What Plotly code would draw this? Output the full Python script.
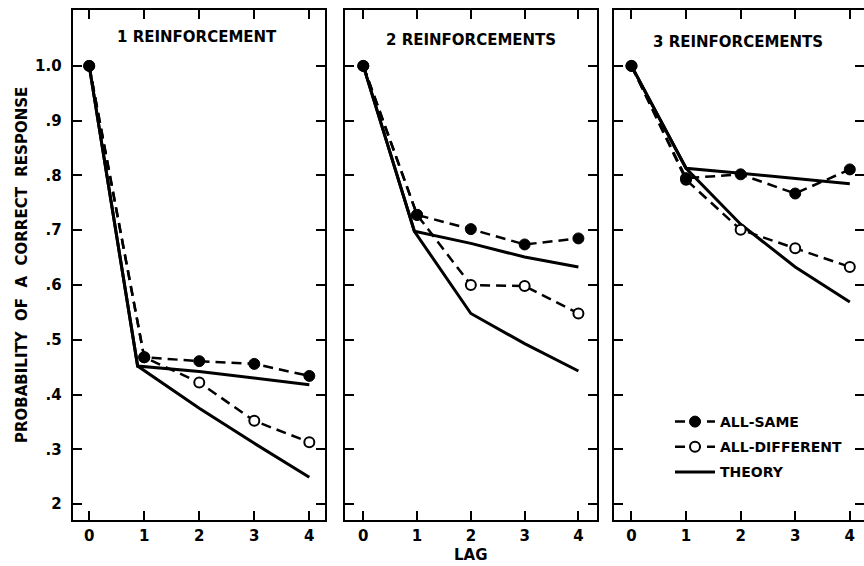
import plotly.graph_objects as go

# ---- data ----
lags = [0, 1, 2, 3, 4]
panel_titles = ["1 REINFORCEMENT", "2 REINFORCEMENTS", "3 REINFORCEMENTS"]

same_1 = [1.0, 0.468, 0.461, 0.456, 0.434]
diff_1 = [1.0, 0.468, 0.422, 0.352, 0.313]
same_2 = [1.0, 0.728, 0.702, 0.674, 0.685]
diff_2 = [1.0, 0.728, 0.600, 0.598, 0.548]
same_3 = [1.0, 0.795, 0.802, 0.767, 0.811]
diff_3 = [1.0, 0.792, 0.701, 0.667, 0.633]

theory_lags_1 = [0, 0.88, 2, 3, 4]
theory_lags_2 = [0, 0.95, 2, 3, 4]
theory_lags_3 = [0, 1, 2, 3, 4]
theory_same_1 = [1.0, 0.452, 0.442, 0.430, 0.418]
theory_diff_1 = [1.0, 0.452, 0.375, 0.311, 0.249]
theory_same_2 = [1.0, 0.698, 0.676, 0.651, 0.633]
theory_diff_2 = [1.0, 0.698, 0.548, 0.493, 0.443]
theory_same_3 = [1.0, 0.813, 0.804, 0.795, 0.785]
theory_diff_3 = [1.0, 0.813, 0.711, 0.633, 0.569]

y_tickvals = [0.2, 0.3, 0.4, 0.5, 0.6, 0.7, 0.8, 0.9, 1.0]
y_ticktext = ["2", ".3", ".4", ".5", ".6", ".7", ".8", ".9", "1.0"]
x_ticktext = ["0", "1", "2", "3", "4"]

panels = [
    (same_1, diff_1, theory_lags_1, theory_same_1, theory_diff_1),
    (same_2, diff_2, theory_lags_2, theory_same_2, theory_diff_2),
    (same_3, diff_3, theory_lags_3, theory_same_3, theory_diff_3),
]

W, H = 864, 566
MT, MB = 10, 46
plot_h = H - MT - MB
FONT = "DejaVu Sans"

x_domains_px = [(72.7, 325.0), (345.0, 596.7), (614.0, 864.0)]
x_ranges = [[-0.30, 4.285], [-0.34, 4.34], [-0.32, 4.26]]
y_range = [0.171, 1.102]

fig = go.Figure()

for i, (same, diff, tl, ts, td) in enumerate(panels):
    n = "" if i == 0 else str(i + 1)
    xa, ya = "x" + n, "y" + n
    last = (i == 2)
    # theory (two branches)
    fig.add_trace(go.Scatter(x=tl, y=ts, xaxis=xa, yaxis=ya, mode="lines",
                             line=dict(color="black", width=3),
                             name="THEORY", legendgroup="theory", showlegend=False,
                             legendrank=3))
    fig.add_trace(go.Scatter(x=tl, y=td, xaxis=xa, yaxis=ya, mode="lines",
                             line=dict(color="black", width=3),
                             name="THEORY", legendgroup="theory", showlegend=last,
                             legendrank=3))
    # all-different
    fig.add_trace(go.Scatter(x=lags, y=diff, xaxis=xa, yaxis=ya, mode="lines+markers",
                             line=dict(color="black", width=2.5, dash="10px,6px"),
                             marker=dict(symbol="circle", size=10, color="white",
                                         line=dict(color="black", width=2)),
                             name="ALL-DIFFERENT", legendgroup="diff", showlegend=last,
                             legendrank=2))
    # all-same
    fig.add_trace(go.Scatter(x=lags, y=same, xaxis=xa, yaxis=ya, mode="lines+markers",
                             line=dict(color="black", width=2.5, dash="10px,6px"),
                             marker=dict(symbol="circle", size=11, color="black",
                                         line=dict(color="black", width=1)),
                             name="ALL-SAME", legendgroup="same", showlegend=last,
                             legendrank=1))

axis_common = dict(showline=True, linecolor="black", linewidth=2.2, mirror="allticks",
                   ticks="inside", ticklen=9, tickwidth=2, tickcolor="black",
                   showgrid=False, zeroline=False,
                   tickfont=dict(family=FONT, size=15, color="black", weight="bold"))

layout = dict(
    width=W, height=H,
    margin=dict(l=0, r=0, t=MT, b=MB, autoexpand=False),
    paper_bgcolor="white", plot_bgcolor="white",
    showlegend=True,
    legend=dict(x=670 / W, xanchor="left", y=(H - MB - 406) / plot_h, yanchor="top",
                bgcolor="rgba(0,0,0,0)", font=dict(family=FONT, size=14, color="black",
                                                  weight="bold"),
                traceorder="grouped", tracegroupgap=4, itemwidth=40),
)

for i in range(3):
    n = "" if i == 0 else str(i + 1)
    d0, d1 = x_domains_px[i]
    layout["xaxis" + n] = dict(axis_common, domain=[d0 / W, min(d1 / W, 1.0)],
                               range=x_ranges[i], tickvals=lags, ticktext=x_ticktext,
                               ticklabelstandoff=1, anchor="y" + n)
    layout["yaxis" + n] = dict(axis_common, domain=[0, 1], range=y_range,
                               tickvals=y_tickvals,
                               ticktext=y_ticktext if i == 0 else [""] * len(y_tickvals),
                               showticklabels=(i == 0), ticklabelstandoff=6,
                               anchor="x" + n)

fig.update_layout(**layout)

def px_to_paper(px, py):
    return px / W, (H - MB - py) / plot_h

ann_font = dict(family=FONT, size=15, color="black", weight="bold")
title_pos = [(197, 37), (471, 40), (738, 42)]
for t, (px, py) in zip(panel_titles, title_pos):
    ax_, ay_ = px_to_paper(px, py)
    fig.add_annotation(x=ax_, y=ay_, xref="paper", yref="paper", text=t, showarrow=False,
                       font=ann_font, xanchor="center", yanchor="middle")

ax_, ay_ = px_to_paper(471, 555)
fig.add_annotation(x=ax_, y=ay_, xref="paper", yref="paper", text="LAG", showarrow=False,
                   font=dict(family=FONT, size=15, color="black", weight="bold"),
                   xanchor="center", yanchor="middle")

ax_, ay_ = px_to_paper(22, 265)
fig.add_annotation(x=ax_, y=ay_, xref="paper", yref="paper",
                   text="PROBABILITY  OF  A  CORRECT  RESPONSE", showarrow=False,
                   font=dict(family=FONT, size=15, color="black", weight="bold"),
                   textangle=-90, xanchor="center", yanchor="middle")

fig.write_html("out.html", config={"displayModeBar": False},
               post_script="document.body.style.margin='0';document.body.style.overflow='hidden';")
